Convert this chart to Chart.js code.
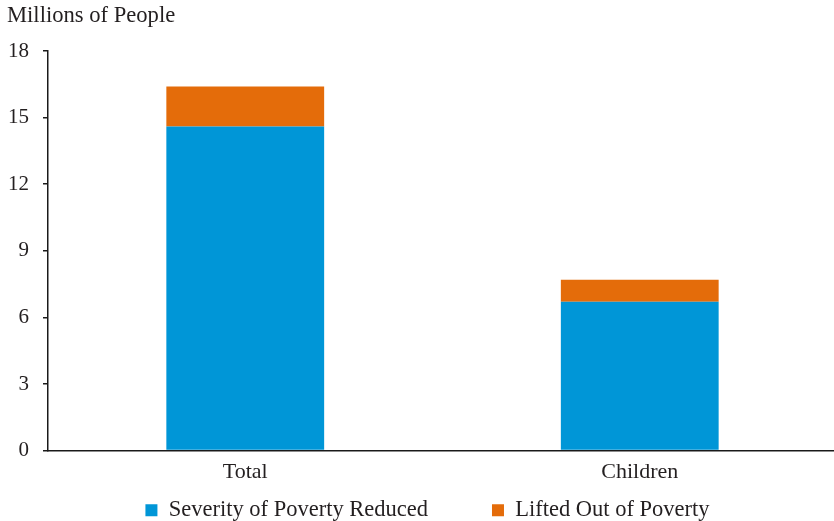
<!DOCTYPE html>
<html>
<head>
<meta charset="utf-8">
<script src="https://cdn.jsdelivr.net/npm/chart.js@4"></script>
<style>
  html, body { margin: 0; padding: 0; background: #fff; overflow: hidden; }
  #wrap { width: 834px; height: 521px; overflow: hidden; }
</style>
</head>
<body>
<div id="wrap"><canvas id="c" width="837" height="521"></canvas></div>
<script>
const categories = ['Total', 'Children'];
const severityReduced = [14.6, 6.7];
const liftedOut = [1.8, 1.0];
const seriesNames = ['Severity of Poverty Reduced', 'Lifted Out of Poverty'];
const yTickMin = 0, yTickMax = 18, yTickStep = 3;
const axisTitle = 'Millions of People';

const FONT = '"Liberation Serif", "Times New Roman", serif';
const TXT = '#231f20';
const AXIS = '#1a1a1a';

// Widen the horizontal gap between legend entries without changing the legend height
const legendGap = {
  id: 'legendGap',
  afterLayout(chart) {
    const lg = chart.legend;
    if (!lg || !lg.lineWidths || !lg.legendHitBoxes) return;
    const labels = lg.options.labels;
    const p0 = labels.padding;
    const P = 64;
    const centerX = 427.5;
    const sum = lg.legendHitBoxes.reduce((a, h) => a + h.width, 0);
    const W = sum + P * (lg.legendHitBoxes.length - 1);
    const start = centerX - W / 2;
    labels.padding = P;
    lg.top = lg.top - (P - p0);
    lg.lineWidths = [lg.left + P + lg.right - 2 * start];
  }
};

new Chart(document.getElementById('c'), {
  type: 'bar',
  data: {
    labels: categories,
    datasets: [
      { label: seriesNames[0], data: severityReduced, backgroundColor: '#0096d7', borderWidth: 0,
        barPercentage: 0.4, categoryPercentage: 1.0 },
      { label: seriesNames[1], data: liftedOut, backgroundColor: '#e46c0a', borderWidth: 0,
        barPercentage: 0.4, categoryPercentage: 1.0 }
    ]
  },
  plugins: [legendGap],
  options: {
    responsive: false,
    animation: false,
    devicePixelRatio: 1,
    layout: { padding: { left: 7, right: 0, top: 0, bottom: -10.5 } },
    plugins: {
      title: {
        display: true, text: axisTitle, align: 'start', color: TXT,
        font: { family: FONT, size: 22.6, weight: 'normal' },
        padding: { top: 2.5, bottom: 21.4 }
      },
      legend: {
        position: 'bottom',
        labels: {
          color: TXT, font: { family: FONT, size: 22.5 },
          boxWidth: 12, boxHeight: 12, padding: 6
        }
      },
      tooltip: { enabled: false }
    },
    scales: {
      x: {
        stacked: true,
        grid: { display: false, drawTicks: false },
        border: { display: true, color: AXIS, width: 1.5 },
        ticks: { color: TXT, font: { family: FONT, size: 22 }, padding: 8 }
      },
      y: {
        stacked: true,
        min: yTickMin, max: yTickMax,
        afterFit: (s) => { s.width = 41; },
        grid: { display: true, drawOnChartArea: false, drawTicks: true, tickLength: 5, color: AXIS, lineWidth: 1.5 },
        border: { display: true, color: AXIS, width: 1.5 },
        ticks: { stepSize: yTickStep, color: TXT, font: { family: FONT, size: 21 }, padding: 14 }
      }
    }
  }
});
</script>
</body>
</html>
